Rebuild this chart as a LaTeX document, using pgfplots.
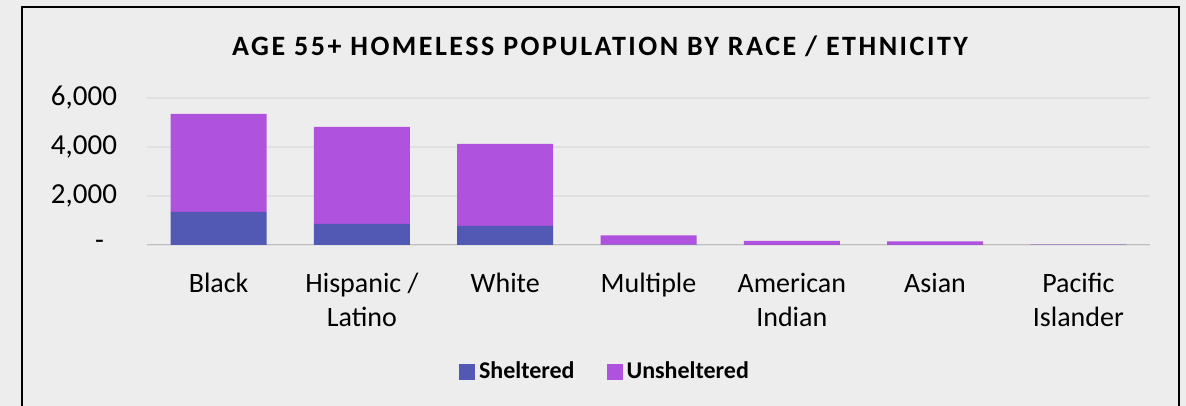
\documentclass[border=0pt]{standalone}
\usepackage{fontspec}
\setmainfont{Carlito}
\usepackage{pgfplots}
\pgfplotsset{compat=1.18}
\definecolor{bgc}{HTML}{EDEDED}
\definecolor{shel}{HTML}{5159B5}
\definecolor{unshel}{HTML}{AF52DE}
\definecolor{gridc}{HTML}{E0E0E0}
\definecolor{axc}{HTML}{BFBFBF}

\begin{document}
\begin{tikzpicture}
\path[use as bounding box] (0,0) rectangle (593pt,203pt);
\fill[bgc] (0,0) rectangle (593pt,203pt);
\draw[line width=1.1pt] (11pt,0) -- (11pt,199.5pt) -- (589.5pt,199.5pt) -- (589.5pt,0);
\node[font=\fontsize{14}{16}\selectfont\bfseries\addfontfeatures{LetterSpace=9}] at (300pt,180pt)
  {AGE 55+ HOMELESS POPULATION BY RACE / ETHNICITY};
\begin{axis}[
    at={(73.5pt,80.5pt)}, anchor=south west,
    scale only axis,
    width=501.5pt, height=73.5pt,
    ybar stacked,
    bar width=0.67,
    xmin=-0.5, xmax=6.5,
    ymin=0, ymax=6000,
    xtick={0,...,6},
    xticklabels={Black,{Hispanic /\\Latino},White,Multiple,{American\\Indian},Asian,{Pacific\\Islander}},
    xticklabel style={align=center, font=\fontsize{14}{17}\selectfont, yshift=-10.5pt},
    ytick={0,2000,4000,6000},
    yticklabels={{-\kern6.5pt},{2,000},{4,000},{6,000}},
    yticklabel style={font=\fontsize{14.5}{16}\selectfont, xshift=-11.5pt},
    major tick length=0pt,
    ymajorgrids,
    grid style={color=gridc, line width=0.6pt},
    axis line style={draw=none},
    legend style={at={(0.4576,-0.864)}, anchor=center, draw=none, fill=none,
        legend columns=2, font=\fontsize{12}{14}\selectfont\bfseries,
        /tikz/every even column/.append style={column sep=14pt}},
    legend image code/.code={\fill[#1] (0pt,-4pt) rectangle (8pt,4pt);},
]
\addplot[fill=shel, draw=none] coordinates {
    (0,1350) (1,860) (2,780) (3,20) (4,10) (5,10) (6,5)
};
\addplot[fill=unshel, draw=none] coordinates {
    (0,4000) (1,3960) (2,3350) (3,370) (4,160) (5,140) (6,10)
};
\legend{Sheltered, Unsheltered}
\draw[axc, line width=1pt] (axis cs:-0.5,0) -- (axis cs:6.5,0);
\end{axis}
\end{tikzpicture}
\end{document}
